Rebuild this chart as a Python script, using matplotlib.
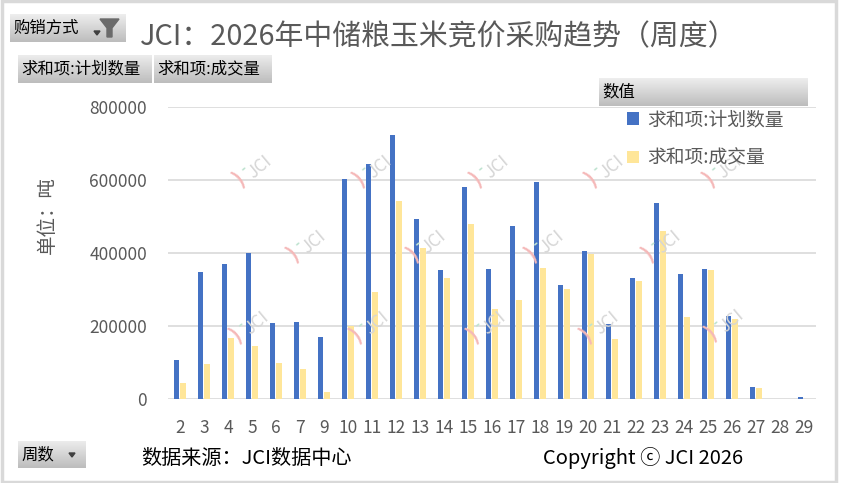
import numpy as np
import matplotlib
matplotlib.use('Agg')
import matplotlib.pyplot as plt
from matplotlib.patches import Rectangle, Polygon

plt.rcParams['font.family'] = ['Noto Sans CJK SC', 'DejaVu Sans']

weeks = ['2', '3', '4', '5', '6', '7', '9', '10', '11', '12', '13', '14', '15', '16',
         '17', '18', '19', '20', '21', '22', '23', '24', '25', '26', '27', '28', '29']
plan = [107000, 348000, 370000, 400000, 208000, 211000, 170000, 601000, 643000, 722000,
        493000, 353000, 580000, 356000, 474000, 594000, 312000, 405000, 206000, 331000,
        536000, 342000, 356000, 228000, 34000, 0, 6000]
deal = [44000, 96000, 168000, 146000, 99000, 83000, 20000, 200000, 293000, 542000,
        413000, 331000, 479000, 247000, 271000, 359000, 301000, 398000, 165000, 323000,
        460000, 225000, 353000, 220000, 31000, 0, 0]
yticks = [0, 200000, 400000, 600000, 800000]

W, H = 841, 483
fig = plt.figure(figsize=(W / 100, H / 100), dpi=100)

def fx(px):
    return px / W

def fy(py):
    return 1 - py / H

GRAY = '#595959'

# main chart
ax = fig.add_axes([fx(168), fy(399.3), fx(816) - fx(168), fy(106.7) - fy(399.3)])
x = np.arange(len(weeks))
ax.bar(x - 0.14, plan, width=0.23, color='#4472C4', label='求和项:计划数量', zorder=3)
ax.bar(x + 0.13, deal, width=0.24, color='#FFE699', label='求和项:成交量', zorder=3)
ax.set_xlim(-0.5, len(weeks) - 0.5)
ax.set_ylim(0, 800000)
ax.set_yticks(yticks)
ax.set_yticklabels([str(v) for v in yticks])
ax.set_xticks(x)
ax.set_xticklabels(weeks)
ax.tick_params(axis='both', length=0, labelsize=12.5, labelcolor=GRAY)
ax.tick_params(axis='y', pad=15)
ax.tick_params(axis='x', pad=14)
for s in ax.spines.values():
    s.set_visible(False)
ax.grid(axis='y', color='#D9D9D9', linewidth=1.2, zorder=0)
ax.set_axisbelow(True)

leg = fig.legend(loc='upper left', bbox_to_anchor=(fx(627), fy(109)), frameon=False,
                 fontsize=13.5, handlelength=0.65, handleheight=0.65, handletextpad=0.4,
                 labelspacing=0.95, borderaxespad=0, borderpad=0)
for t in leg.get_texts():
    t.set_color(GRAY)

# watermarks
marks = [(253, 172), (373, 172), (490, 172), (605, 172), (723, 172),
         (307, 247), (427, 247), (545, 247), (662, 247),
         (250, 328), (370, 328), (487, 328), (600, 328), (725, 326)]
for (mx, my) in marks:
    fig.text(fx(mx - 14), fy(my + 6), ')', fontsize=15, color='#F5B8B8', rotation=40,
             ha='center', va='center', fontweight='bold', zorder=1)
    fig.text(fx(mx - 9), fy(my - 3), '-', fontsize=10, color='#BFE3D0', rotation=40,
             ha='center', va='center', fontweight='bold', zorder=1)
    fig.text(fx(mx + 7), fy(my - 5), 'JCI', fontsize=12.5, color='#D6D6D6', rotation=40,
             ha='center', va='center', zorder=1)

# title and text
fig.text(fx(140), fy(37), 'JCI：2026年中储粮玉米竞价采购趋势（周度）', fontsize=20.8,
         color=GRAY, ha='left', va='center')
fig.text(fx(47), fy(215), '单位：吨', fontsize=14, color=GRAY, rotation=90,
         ha='center', va='center')
fig.text(fx(141), fy(458), '数据来源：JCI数据中心', fontsize=14.5, color='black',
         ha='left', va='center')
fig.text(fx(543), fy(458), 'Copyright ⓒ JCI 2026', fontsize=14.5, color='black',
         ha='left', va='center')

# pivot buttons
grad = np.linspace(0.93, 0.74, 40).reshape(-1, 1)

def button(x0, y0, x1, y1, label, fs=11.8):
    bax = fig.add_axes([fx(x0), fy(y1), fx(x1) - fx(x0), fy(y0) - fy(y1)])
    bax.imshow(grad, cmap='gray', vmin=0, vmax=1, aspect='auto', extent=(0, 1, 0, 1))
    bax.set_xlim(0, 1)
    bax.set_ylim(0, 1)
    bax.axis('off')
    fig.text(fx(x0 + 3), fy((y0 + y1) / 2), label, fontsize=fs, color='black',
             ha='left', va='center')
    return bax

button(10, 14, 126, 42, '购销方式')
button(18, 55, 152, 83, '求和项:计划数量')
button(154, 55, 272, 83, '求和项:成交量')
button(599, 78, 808, 106, '数值')
button(18, 441, 86, 468, '周数')

# dropdown arrows and funnel
for (ax0, ay0) in [(97, 33), (72, 455)]:
    fig.patches.append(Polygon([(fx(ax0 - 3), fy(ay0 - 2)), (fx(ax0 + 3), fy(ay0 - 2)),
                                (fx(ax0), fy(ay0 + 2))], closed=True, color='#404040',
                               transform=fig.transFigure, figure=fig))
fig.patches.append(Polygon([(fx(100), fy(19)), (fx(119), fy(19)), (fx(112), fy(28)),
                            (fx(112), fy(37)), (fx(107), fy(37)), (fx(107), fy(28))],
                           closed=True, color='#6b6b6b', transform=fig.transFigure, figure=fig))

# outer border
fig.patches.append(Rectangle((fx(1.5), fy(481.5)), fx(836) - fx(1.5), fy(1.5) - fy(481.5),
                             fill=False, edgecolor='#D9D9D9', linewidth=2.5,
                             transform=fig.transFigure, figure=fig))

fig.savefig('out.png', dpi=100)
